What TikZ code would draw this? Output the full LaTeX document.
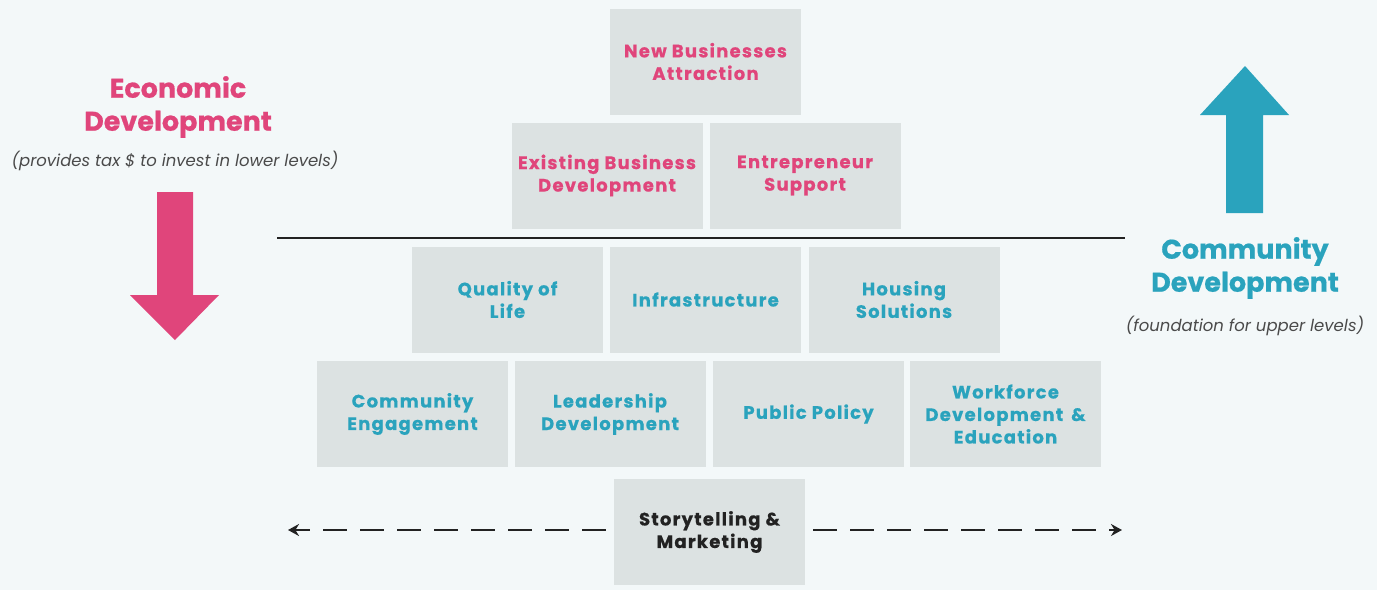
\documentclass[tikz,border=0pt]{standalone}
\usepackage{fontspec}
\setmainfont{Poppins}
\newfontfamily\tilefont{Poppins}[LetterSpace=7, BoldFeatures={FakeBold=0.5}]
\newfontfamily\headfont{Poppins}[BoldFeatures={FakeBold=0.6}]
\usetikzlibrary{arrows.meta}
\definecolor{bg}{HTML}{F3F8F9}
\definecolor{boxgray}{HTML}{DCE2E2}
\definecolor{econpink}{HTML}{E0457B}
\definecolor{commblue}{HTML}{2AA3BD}
\definecolor{inkdark}{HTML}{222222}
\definecolor{notegray}{HTML}{4A4A4A}
\begin{document}
\begin{tikzpicture}[x=1pt,y=-1pt,
  tile/.style={fill=boxgray, minimum width=191pt, minimum height=106pt,
    inner sep=0pt, align=center, font=\tilefont\fontsize{18}{22.5}\selectfont\bfseries},
  econ/.style={tile, text=econpink},
  comm/.style={tile, text=commblue},
  story/.style={tile, text=inkdark},
  heading/.style={align=center, font=\headfont\fontsize{27}{33}\selectfont\bfseries},
  subnote/.style={font=\fontsize{16.5}{20}\selectfont\itshape, text=notegray},
  flow/.style={dashed, dash pattern=on 24pt off 13pt, line width=2.4pt, inkdark,
    -{Stealth[length=11pt,width=12pt]}}]
% canvas
\fill[bg] (0,0) rectangle (1377,590);
\useasboundingbox (0,0) rectangle (1377,590);

% economic levels
\node[econ] (nba) at (705.5,61.5) {New Businesses\\Attraction};
\node[econ] (ebd) at (607,175.5) {Existing Business\\Development};
\node[econ] (ent) at (805,175.5) {Entrepreneur\\Support};

% dividing line
\coordinate (divL) at (277,238);
\coordinate (divR) at (1125,238);
\draw[line width=2pt, inkdark] (divL) -- (divR);

% community levels
\node[comm] (qol) at (507.5,299.5) {Quality of\\Life};
\node[comm] (inf) at (705.5,299.5) {Infrastructure};
\node[comm] (hou) at (904,299.5) {Housing\\Solutions};
\node[comm] (ceg) at (412.5,414) {Community\\Engagement};
\node[comm] (lea) at (610,414) {Leadership\\Development};
\node[comm] (pub) at (808.5,414) {Public Policy};
\node[comm] (wfd) at (1005.5,414) {Workforce\\Development \,\&\\Education};

% storytelling base
\node[story] (sto) at (709.5,532) {Storytelling \&\\Marketing};
\coordinate (flowL) at (288,530);
\coordinate (flowR) at (1122,530);
\draw[flow] ([xshift=-8pt]sto.west |- flowL) -- (flowL);
\draw[flow] ([xshift=8pt]sto.east |- flowR) -- (flowR);

% economic development label and downward arrow
\node[heading, text=econpink] (econT) at (178,107) {Economic\\Development};
\node[subnote] (econN) at (175,161) {(provides tax \$ to invest in lower levels)};
\fill[econpink] (157,192) -- (193,192) -- (193,295) -- (219,295) -- (175,340)
  -- (130,295) -- (157,295) -- cycle;

% community development label and upward arrow
\node[heading, text=commblue] (commT) at (1245,268) {Community\\Development};
\node[subnote] (commN) at (1245,326) {(foundation for upper levels)};
\fill[commblue] (1226,213) -- (1263,213) -- (1263,115) -- (1289,115) -- (1245,66)
  -- (1200,115) -- (1226,115) -- cycle;
\end{tikzpicture}
\end{document}
